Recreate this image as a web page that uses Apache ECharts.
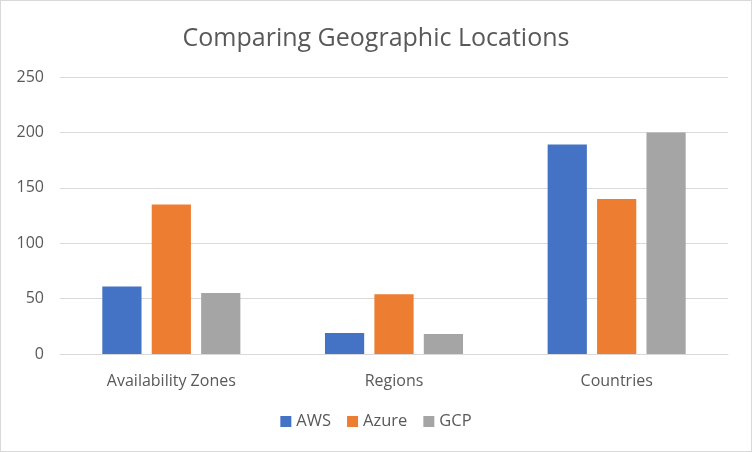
<!DOCTYPE html>
<html>
<head>
<meta charset="utf-8">
<script src="https://cdn.jsdelivr.net/npm/echarts@6/dist/echarts.min.js"></script>
<style>
html,body{margin:0;padding:0;background:#fff;}
#c{width:750px;height:450px;border:1px solid #d9d9d9;}
</style>
</head>
<body>
<div id="c"></div>
<script>
const categories = ["Availability Zones", "Regions", "Countries"];
const aws = [61, 19, 189];
const azure = [135, 54, 140];
const gcp = [55, 18, 200];
const yTicks = [0, 50, 100, 150, 200, 250];

const chart = echarts.init(document.getElementById('c'));
const font = "'Open Sans', 'Liberation Sans', sans-serif";
chart.setOption({
  animation: false,
  title: {
    text: 'Comparing Geographic Locations',
    left: 'center',
    top: 20,
    textStyle: {fontFamily: font, fontSize: 25, fontWeight: 'normal', color: '#595959'}
  },
  legend: {
    bottom: 16,
    left: 'center',
    itemWidth: 11,
    itemHeight: 11,
    itemGap: 16,
    icon: 'rect',
    textStyle: {fontFamily: font, fontSize: 16.5, color: '#595959'},
    data: ['AWS', 'Azure', 'GCP']
  },
  grid: {left: 59, right: 23, top: 76, bottom: 97, containLabel: false},
  xAxis: {
    type: 'category',
    data: categories,
    axisLine: {lineStyle: {color: '#d9d9d9'}},
    axisTick: {show: false},
    axisLabel: {fontFamily: font, fontSize: 16, color: '#595959', margin: 19}
  },
  yAxis: {
    type: 'value',
    min: yTicks[0],
    max: yTicks[yTicks.length - 1],
    interval: 50,
    axisLine: {show: false},
    axisTick: {show: false},
    splitLine: {lineStyle: {color: '#d9d9d9'}},
    axisLabel: {fontFamily: font, fontSize: 16, color: '#595959', margin: 16}
  },
  series: [
    {name: 'AWS', type: 'bar', data: aws, itemStyle: {color: '#4472C4'}, barGap: '26%', barCategoryGap: '38%'},
    {name: 'Azure', type: 'bar', data: azure, itemStyle: {color: '#ED7D31'}},
    {name: 'GCP', type: 'bar', data: gcp, itemStyle: {color: '#A5A5A5'}}
  ]
});
</script>
</body>
</html>
